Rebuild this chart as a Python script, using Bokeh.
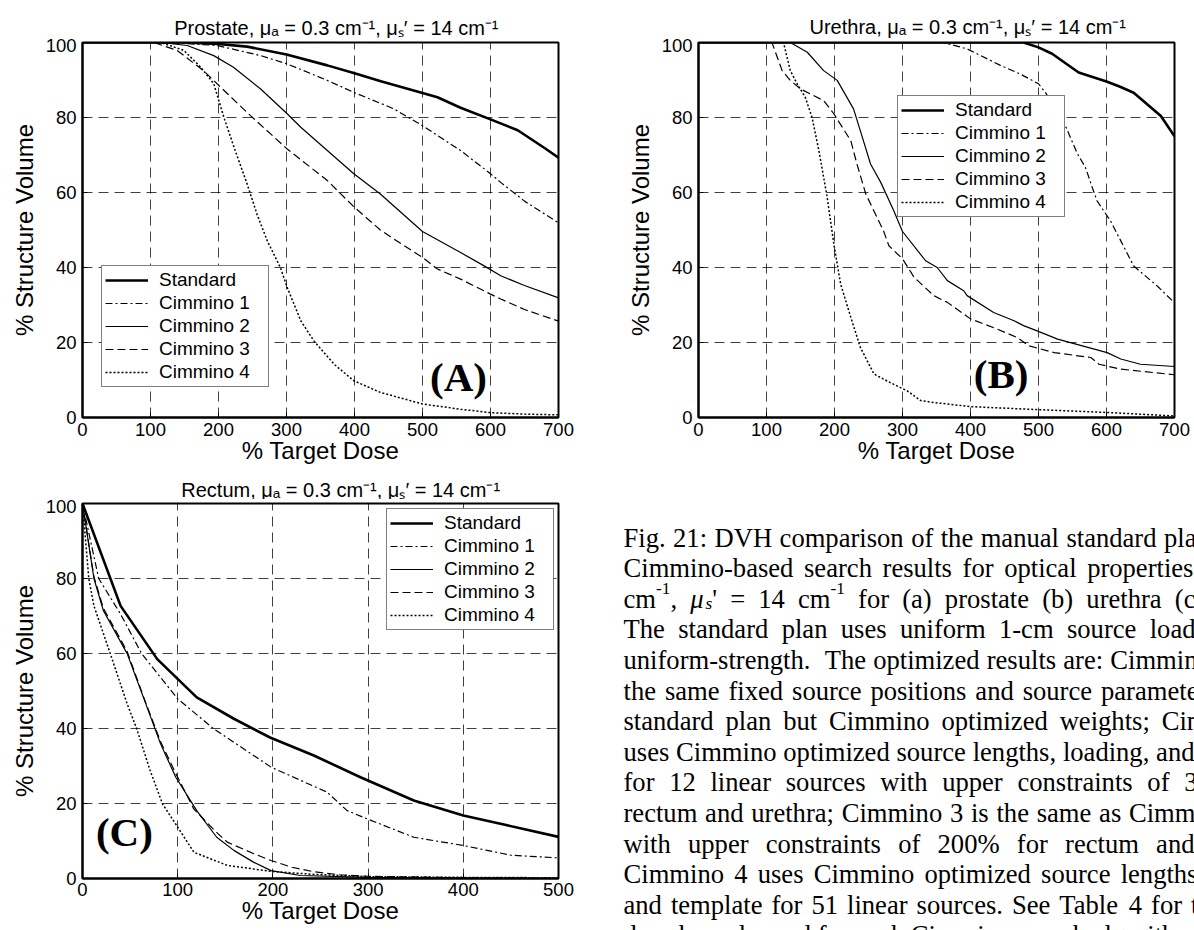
from bokeh.plotting import figure
from bokeh.models import Range1d, Legend, LegendItem, Label, FixedTicker, ColumnDataSource
from bokeh.layouts import row, column
from bokeh.embed import file_html
from bokeh.resources import INLINE
from bokeh.core.properties import value

# ----------------------------- data -----------------------------
SERIES = ["Standard", "Cimmino 1", "Cimmino 2", "Cimmino 3", "Cimmino 4"]
X_TICKS_700 = [0, 100, 200, 300, 400, 500, 600, 700]
X_TICKS_500 = [0, 100, 200, 300, 400, 500]
Y_TICKS = [0, 20, 40, 60, 80, 100]

# (A) Prostate
pro_std_x = [0, 150, 200, 242, 300, 360, 400, 440, 487, 522, 556, 600, 640, 660, 680, 700]
pro_std_y = [100, 100, 99.6, 98.9, 96.8, 93.9, 91.8, 89.6, 87.2, 85.4, 82.6, 79.5, 76.6, 74.2, 71.8, 69.3]
pro_c1_x = [0, 130, 198, 262, 301, 360, 399, 458, 500, 556, 600, 615, 650, 700]
pro_c1_y = [100, 100, 99.2, 96.5, 94.3, 89.9, 86.7, 82.3, 77.8, 71.2, 65, 62.7, 57.7, 51.9]
pro_c2_x = [0, 115, 154, 193, 222, 262, 301, 321, 360, 399, 438, 500, 522, 556, 590, 615, 650, 700]
pro_c2_y = [100, 100, 99.2, 96.5, 93.4, 87.6, 81, 77.4, 71.2, 65, 59.6, 49.6, 47.4, 44, 40.5, 37.8, 35.2, 31.9]
pro_c3_x = [0, 105, 139, 178, 203, 247, 301, 360, 399, 438, 458, 500, 522, 556, 600, 615, 650, 700]
pro_c3_y = [100, 100, 97.9, 92.5, 88.1, 80.5, 71.6, 63.2, 56.2, 50, 47.6, 42.7, 39.6, 36.9, 32.9, 31.6, 28.8, 25.7]
pro_c4_x = [0, 115, 149, 174, 193, 208, 222, 242, 257, 272, 291, 301, 321, 340, 370, 399, 438, 500, 556, 600, 650, 700]
pro_c4_y = [100, 100, 97.9, 93.4, 89, 80, 72.5, 62.3, 54, 47, 40, 34.7, 25.8, 20.5, 14.2, 9.8, 6.7, 3.6, 2.2, 1.3, 0.9, 0.7]

# (B) Urethra
ure_std_x = [0, 478, 500, 520, 559, 600, 620, 640, 680, 700]
ure_std_y = [100, 100, 98.7, 97, 92, 89.6, 88.2, 86.6, 80.4, 75]
ure_c1_x = [0, 360, 395, 415, 444, 473, 500, 510, 535, 557, 569, 579, 586, 606, 621, 640, 675, 700]
ure_c1_y = [100, 100, 98.3, 96.5, 93.9, 91.6, 89, 86.7, 79.7, 70.4, 66.7, 61.4, 57.8, 52.4, 47.1, 40.4, 35, 30.6]
ure_c2_x = [0, 135, 160, 184, 204, 228, 241, 253, 268, 287, 300, 334, 351, 366, 390, 395, 434, 464, 478, 498, 528, 601, 621, 650, 700]
ure_c2_y = [100, 100, 97.4, 92.5, 89.9, 82.3, 74.7, 67.6, 62.7, 55.2, 49.6, 41.8, 40, 36.5, 33.8, 32.5, 28, 25.8, 24.5, 23.1, 20.9, 17.3, 15.6, 14.2, 13.6]
ure_c3_x = [0, 108, 123, 135, 150, 184, 199, 224, 233, 246, 272, 280, 300, 317, 346, 366, 400, 439, 469, 486, 523, 577, 589, 621, 700]
ure_c3_y = [100, 100, 92.5, 89.9, 87.6, 84.5, 81, 73.8, 67.6, 59.6, 49.8, 45.8, 42.3, 37.4, 32.5, 30.7, 26.3, 23.6, 21.3, 19.1, 17.3, 16, 14.2, 12.9, 11.4]
ure_c4_x = [0, 125, 135, 145, 157, 167, 177, 189, 199, 209, 224, 238, 258, 282, 307, 327, 346, 400, 498, 606, 700]
ure_c4_y = [100, 100, 92.5, 89, 85.4, 80, 71.2, 59, 46.3, 35.6, 26.7, 18.7, 11.6, 9.3, 7.1, 4.5, 4, 2.9, 2.1, 1.3, 0.4]

# (C) Rectum
rec_std_x = [0, 40, 78.5, 120, 159, 197, 243, 292, 348, 400, 439, 500]
rec_std_y = [100, 72.7, 58.5, 48.3, 42.6, 37.6, 32.8, 27, 20.8, 16.8, 14.6, 11.1]
rec_c1_x = [0, 17, 40, 62, 100, 138, 198, 257, 278, 299, 348, 400, 425, 450, 500]
rec_c1_y = [100, 80, 70.5, 60, 47.9, 39.9, 29.7, 23, 18.1, 15.9, 11, 8.8, 7.5, 6.2, 5.5]
rec_c2_x = [0, 12, 22, 47, 64, 82, 98, 120, 141, 159, 180, 198, 229, 300, 400, 500]
rec_c2_y = [100, 80, 71.4, 59.9, 48.3, 35.9, 27, 18.1, 11, 7.5, 4.3, 2.1, 0.8, 0.3, 0.1, 0]
rec_c3_x = [0, 12, 22, 47, 64, 82, 98, 117, 140, 152, 180, 198, 220, 243, 270, 300, 400, 500]
rec_c3_y = [100, 80.5, 72, 60.5, 48.5, 36.5, 28, 18.5, 12.5, 9.7, 6.6, 4.8, 3, 1.8, 1.0, 0.6, 0.2, 0.1]
rec_c4_x = [0, 6.6, 12, 29, 47, 57, 71, 84, 100, 117, 152, 198, 243, 300, 400, 500]
rec_c4_y = [100, 80, 72.7, 60.1, 46.5, 39.9, 28.8, 19.9, 13.7, 7, 3.5, 1.9, 1.1, 0.5, 0.3, 0.2]

TITLE_FMT = "{}, \u03bc\u2090 = 0.3 cm\u207b\u00b9, \u03bc\u209b\u2032 = 14 cm\u207b\u00b9"

CAPTION_LINES = [
    [("Fig. 21: DVH comparison of the manual standard pla", "n")],
    [("Cimmino-based search results for optical properties", "n")],
    [("cm", "n"), ("-1", "sup"), (", ", "n"), ("\u03bc", "it"), ("s", "itsub"),
     ("' = 14 cm", "n"), ("-1", "sup"), (" for (a) prostate (b) urethra (c", "n")],
    [("The standard plan uses uniform 1-cm source load", "n")],
    [("uniform-strength.  The optimized results are: Cimmin", "n")],
    [("the same fixed source positions and source paramete", "n")],
    [("standard plan but Cimmino optimized weights; Cim", "n")],
    [("uses Cimmino optimized source lengths, loading, and", "n")],
    [("for 12 linear sources with upper constraints of 3", "n")],
    [("rectum and urethra; Cimmino 3 is the same as Cimm", "n")],
    [("with upper constraints of 200% for rectum and", "n")],
    [("Cimmino 4 uses Cimmino optimized source lengths", "n")],
    [("and template for 51 linear sources. See Table 4 for t", "n")],
    [("dose bounds used for each Cimmino search algorithm", "n")],
]

# ----------------------------- styles / layout -----------------------------
STYLES = {
    "Standard": dict(line_width=2.6),
    "Cimmino 1": dict(line_width=1.2, line_dash="7 3 2 3"),
    "Cimmino 2": dict(line_width=1.2),
    "Cimmino 3": dict(line_width=1.2, line_dash="8 4"),
    "Cimmino 4": dict(line_width=1.5, line_dash="2 2"),
}
FRAME_W = 476
FRAME_H = 375
SANS = "Liberation Sans"
SERIF = "Liberation Serif"

TIMES = {' ': 250, '%': 833, "'": 180, '(': 333, ')': 333, ',': 250, '-': 333, '.': 250,
         ':': 278, ';': 278, '=': 564, '\u03bc': 576,
         'A': 722, 'B': 667, 'C': 667, 'D': 722, 'E': 611, 'F': 556, 'G': 722, 'H': 722,
         'I': 333, 'J': 389, 'K': 722, 'L': 611, 'M': 889, 'N': 722, 'O': 722, 'P': 556,
         'Q': 722, 'R': 667, 'S': 556, 'T': 611, 'U': 722, 'V': 722, 'W': 944, 'X': 722,
         'Y': 722, 'Z': 611,
         'a': 444, 'b': 500, 'c': 444, 'd': 500, 'e': 444, 'f': 333, 'g': 500, 'h': 500,
         'i': 278, 'j': 278, 'k': 500, 'l': 278, 'm': 778, 'n': 500, 'o': 500, 'p': 500,
         'q': 500, 'r': 333, 's': 389, 't': 278, 'u': 500, 'v': 500, 'w': 722, 'x': 500,
         'y': 500, 'z': 444}
for d in "0123456789":
    TIMES[d] = 500


def text_w(s, size, table):
    return sum(table.get(c, 556) for c in s) / 1000.0 * size


def text_fig(width, height):
    f = figure(width=width, height=height, x_range=Range1d(0, width), y_range=Range1d(height, 0),
               output_backend="svg", toolbar_location=None, min_border=0,
               x_axis_location=None, y_axis_location=None, outline_line_color=None,
               background_fill_color="white", border_fill_color="white")
    f.grid.visible = False
    return f


def title_fig(organ, width, height, center_x, baseline):
    f = text_fig(width, height)
    f.text(x=[center_x], y=[baseline], text=[TITLE_FMT.format(organ)],
           text_font=value(SANS), text_font_size=value("20px"), text_align="center",
           text_baseline="alphabetic", text_color="black")
    return f


def make_panel(x_end, xticks, data, width, height, borders, legend_loc, tag, tag_xy,
               tick_standoff=5):
    bl, br, bt, bb = borders
    p = figure(width=width, height=height, x_range=Range1d(0, x_end), y_range=Range1d(0, 100),
               output_backend="svg", toolbar_location=None,
               min_border_left=bl, min_border_right=br, min_border_top=bt, min_border_bottom=bb,
               background_fill_color="white", border_fill_color="white")
    p.xaxis.ticker = FixedTicker(ticks=xticks)
    p.yaxis.ticker = FixedTicker(ticks=Y_TICKS)
    for ax in (p.xaxis[0], p.yaxis[0]):
        ax.axis_line_width = 2
        ax.axis_line_color = "black"
        ax.major_tick_in = 5
        ax.major_tick_out = 0
        ax.major_tick_line_color = "black"
        ax.minor_tick_line_color = None
        ax.major_label_text_font = SANS
        ax.major_label_text_font_size = "18.5px"
        ax.major_label_text_color = "black"
        ax.axis_label_text_font = SANS
        ax.axis_label_text_font_size = "24px"
        ax.axis_label_text_font_style = "normal"
        ax.axis_label_text_color = "black"
    p.xaxis.major_label_standoff = tick_standoff
    p.yaxis.major_label_standoff = 6
    p.yaxis.axis_label = "% Structure Volume"
    p.yaxis.axis_label_standoff = 5
    p.xaxis.axis_label = "% Target Dose"
    p.xaxis.axis_label_standoff = -2
    p.grid.grid_line_color = "black"
    p.grid.grid_line_alpha = 0.75
    p.grid.grid_line_dash = "10 6"
    p.grid.grid_line_width = 1
    p.outline_line_color = "black"
    p.outline_line_width = 2

    items = []
    for name in SERIES:
        xs, ys = data[name]
        r = p.line(xs, ys, line_color="black", **STYLES[name])
        items.append(LegendItem(label=name, renderers=[r]))
    legend = Legend(items=items, location=legend_loc, padding=3, spacing=1,
                    label_height=20, glyph_height=20, glyph_width=43, label_standoff=11,
                    label_width=106, margin=0, border_line_color="black", border_line_width=1,
                    background_fill_color="white", background_fill_alpha=1.0,
                    label_text_font=SANS, label_text_font_size="19px", label_text_color="black")
    p.add_layout(legend)
    p.add_layout(Label(x=tag_xy[0], y=tag_xy[1], text=tag, text_font=SERIF,
                       text_font_style="bold", text_font_size="41px", text_align="center",
                       text_baseline="middle", text_color="black"))
    return p


# Row 1 (y 0-470): titles 38 px, plots 432 px (top 4, frame 375, bottom 53)
tA = title_fig("Prostate", 600, 38, 82 + FRAME_W / 2, 27)
pA = make_panel(700, X_TICKS_700,
                {"Standard": (pro_std_x, pro_std_y), "Cimmino 1": (pro_c1_x, pro_c1_y),
                 "Cimmino 2": (pro_c2_x, pro_c2_y), "Cimmino 3": (pro_c3_x, pro_c3_y),
                 "Cimmino 4": (pro_c4_x, pro_c4_y)},
                600, 432, (82, 42, 4, 53), (19, 30), "(A)", (553, 10.7))
tB = title_fig("Urethra", 594, 38, 98 + FRAME_W / 2, 26)
pB = make_panel(700, X_TICKS_700,
                {"Standard": (ure_std_x, ure_std_y), "Cimmino 1": (ure_c1_x, ure_c1_y),
                 "Cimmino 2": (ure_c2_x, ure_c2_y), "Cimmino 3": (ure_c3_x, ure_c3_y),
                 "Cimmino 4": (ure_c4_x, ure_c4_y)},
                594, 432, (98, 20, 4, 53), (199, 200), "(B)", (445, 11.7))

# Row 2 (y 470-930): title 29 px, plot 431 px (top 4, frame 375, bottom 52)
tC = title_fig("Rectum", 590, 29, 82 + FRAME_W / 2, 19)
pC = make_panel(500, X_TICKS_500,
                {"Standard": (rec_std_x, rec_std_y), "Cimmino 1": (rec_c1_x, rec_c1_y),
                 "Cimmino 2": (rec_c2_x, rec_c2_y), "Cimmino 3": (rec_c3_x, rec_c3_y),
                 "Cimmino 4": (rec_c4_x, rec_c4_y)},
                590, 431, (82, 32, 4, 52), (304, 248), "(C)", (44, 12.3), tick_standoff=4)

# ----------------------------- caption -----------------------------
CAP_W, CAP_H = 604, 460
CAP_LEFT_ABS, CAP_TOP_ABS = 590, 470
cap = text_fig(CAP_W, CAP_H)

CAP_SIZE = 26.6
CAP_X0 = 623 - CAP_LEFT_ABS
CAP_ENDS = [1196, 1193, 1195, 1195, 1197, 1198, 1207, 1194, 1197, 1195, 1194, 1197, 1198, 1195]
CAP_STYLE = {"n": (1.0, "normal", 0.0), "it": (1.0, "italic", 0.0),
             "sup": (0.65, "normal", -10.0), "itsub": (0.65, "italic", 5.0)}

cap_groups = {}
for i, runs in enumerate(CAPTION_LINES):
    base_y = 537 + 30.6 * i - CAP_TOP_ABS
    toks = []
    for text, style in runs:
        parts = text.split(" ")
        for k, part in enumerate(parts):
            if k > 0:
                toks.append(None)
            if part:
                toks.append((part, style))
    widths = [0 if t is None else text_w(t[0], CAP_SIZE * CAP_STYLE[t[1]][0], TIMES) for t in toks]
    n_sp = toks.count(None)
    sp = 0.25 * CAP_SIZE
    natural = sum(widths) + n_sp * sp
    target = CAP_ENDS[i] - CAP_LEFT_ABS
    extra = max(0.0, (target - CAP_X0 - natural) / n_sp) if n_sp else 0.0
    x = CAP_X0
    for t, w in zip(toks, widths):
        if t is None:
            x += sp + extra
        else:
            scale, fstyle, dy = CAP_STYLE[t[1]]
            g = cap_groups.setdefault((CAP_SIZE * scale, fstyle), dict(x=[], y=[], text=[]))
            g["x"].append(x)
            g["y"].append(base_y + dy)
            g["text"].append(t[0])
            x += w

for (size, fstyle), cols in cap_groups.items():
    cap.text(x="x", y="y", text="text", source=ColumnDataSource(cols),
             text_font=value(SERIF), text_font_size=value(f"{size:.1f}px"),
             text_font_style=fstyle, text_align="left", text_baseline="alphabetic",
             text_color="black")

layout = column(row(column(tA, pA), column(tB, pB)),
                row(column(tC, pC), cap))
open("out.html", "w").write(file_html(layout, INLINE, title="DVH comparison"))
